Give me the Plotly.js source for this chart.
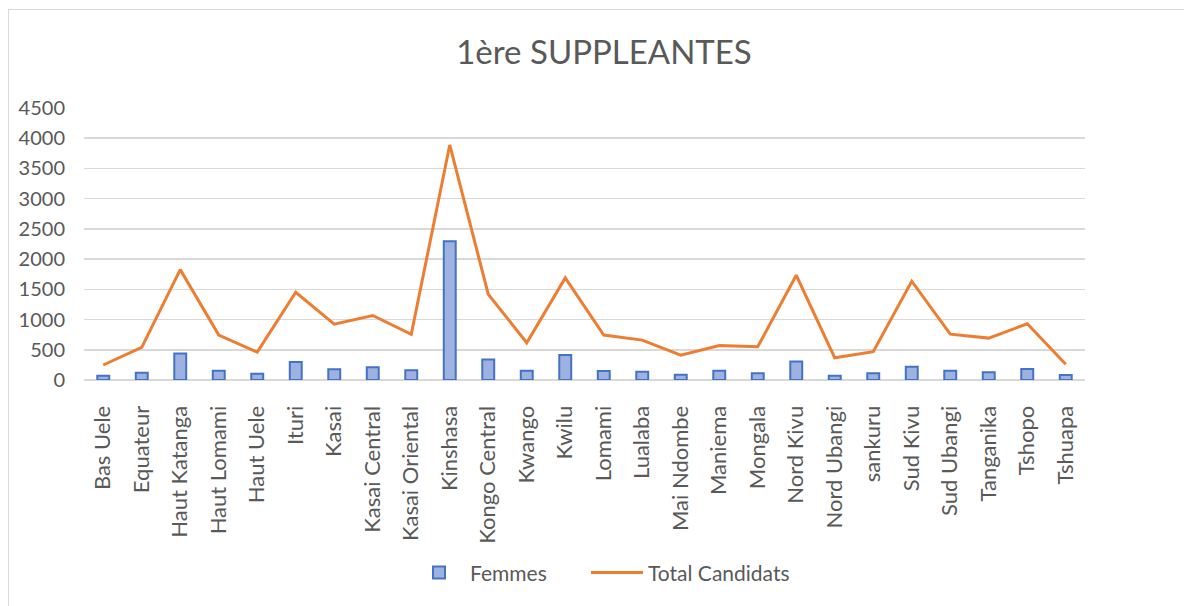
<!DOCTYPE html>
<html>
<head>
<meta charset="utf-8">
<script src="https://cdn.plot.ly/plotly-3.0.1.min.js"></script>
<style>
  html, body { margin: 0; padding: 0; overflow: hidden; background: #fff; width: 1184px; height: 606px; }
  #frame { position: absolute; left: 8px; top: 9px; border-left: 1px solid #d9d9d9; border-top: 1px solid #d9d9d9; width: 1190px; height: 610px; }
  #chart { width: 1190px; height: 610px; }
</style>
</head>
<body>
<div id="frame"><div id="chart"></div></div>
<script>
const categories = ["Bas Uele","Equateur","Haut Katanga","Haut Lomami","Haut Uele","Ituri","Kasai","Kasai Central","Kasai Oriental","Kinshasa","Kongo Central","Kwango","Kwilu","Lomami","Lualaba","Mai Ndombe","Maniema","Mongala","Nord Kivu","Nord Ubangi","sankuru","Sud Kivu","Sud Ubangi","Tanganika","Tshopo","Tshuapa"];
const femmes = [72,121,440,154,105,297,176,209,160,2294,341,154,413,149,138,88,154,110,308,72,110,220,154,127,182,83];
const totalCandidats = [248,539,1826,743,462,1452,924,1067,754,3889,1419,616,1689,743,660,412,572,550,1733,368,468,1634,759,693,930,259];
const yTicks = [0,500,1000,1500,2000,2500,3000,3500,4000,4500];

const font = "Lato, 'Open Sans', sans-serif";
const grey = "#595959";

const traces = [
  {
    type: "bar", name: "Femmes", x: categories, y: femmes, width: 0.31, legend: "legend",
    marker: { color: "#9DB2E0", line: { color: "#4472C4", width: 2 } }
  },
  {
    type: "scatter", mode: "lines", name: "Total Candidats", x: categories, y: totalCandidats, legend: "legend2",
    line: { color: "#ED7D31", width: 3 }
  }
];

const legendBase = { orientation: "h", xanchor: "left", y: -0.709, yanchor: "middle", font: { size: 21, color: grey }, itemwidth: 52, bgcolor: "rgba(0,0,0,0)" };

const layout = {
  width: 1190, height: 610,
  margin: { l: 75, r: 114, t: 98, b: 240 },
  paper_bgcolor: "#fff", plot_bgcolor: "#fff",
  font: { family: font, color: grey, size: 20 },
  title: { text: "1ère SUPPLEANTES", font: { family: font, size: 33, color: grey }, x: 0.5, xref: "container", xanchor: "center", y: 0.931, yanchor: "middle" },
  showlegend: true,
  legend: Object.assign({}, legendBase, { x: 0.3237 }),
  legend2: Object.assign({}, legendBase, { x: 0.5015 }),
  xaxis: {
    type: "category", tickangle: -90, showgrid: false, showline: false, zeroline: false,
    ticks: "outside", ticklen: 16, tickcolor: "rgba(0,0,0,0)",
    tickfont: { size: 22, color: grey }, fixedrange: true
  },
  yaxis: {
    range: [0, 4500], tickvals: yTicks, ticktext: yTicks.map(String),
    showgrid: true, gridcolor: "#d9d9d9", gridwidth: 1.5,
    zeroline: true, zerolinecolor: "#d9d9d9", zerolinewidth: 1.5,
    showline: false, ticks: "", ticklabelstandoff: 18,
    tickfont: { size: 20, color: grey }, fixedrange: true
  },
  hovermode: false
};

Plotly.newPlot("chart", traces, layout, { displayModeBar: false, staticPlot: true });
</script>
</body>
</html>
